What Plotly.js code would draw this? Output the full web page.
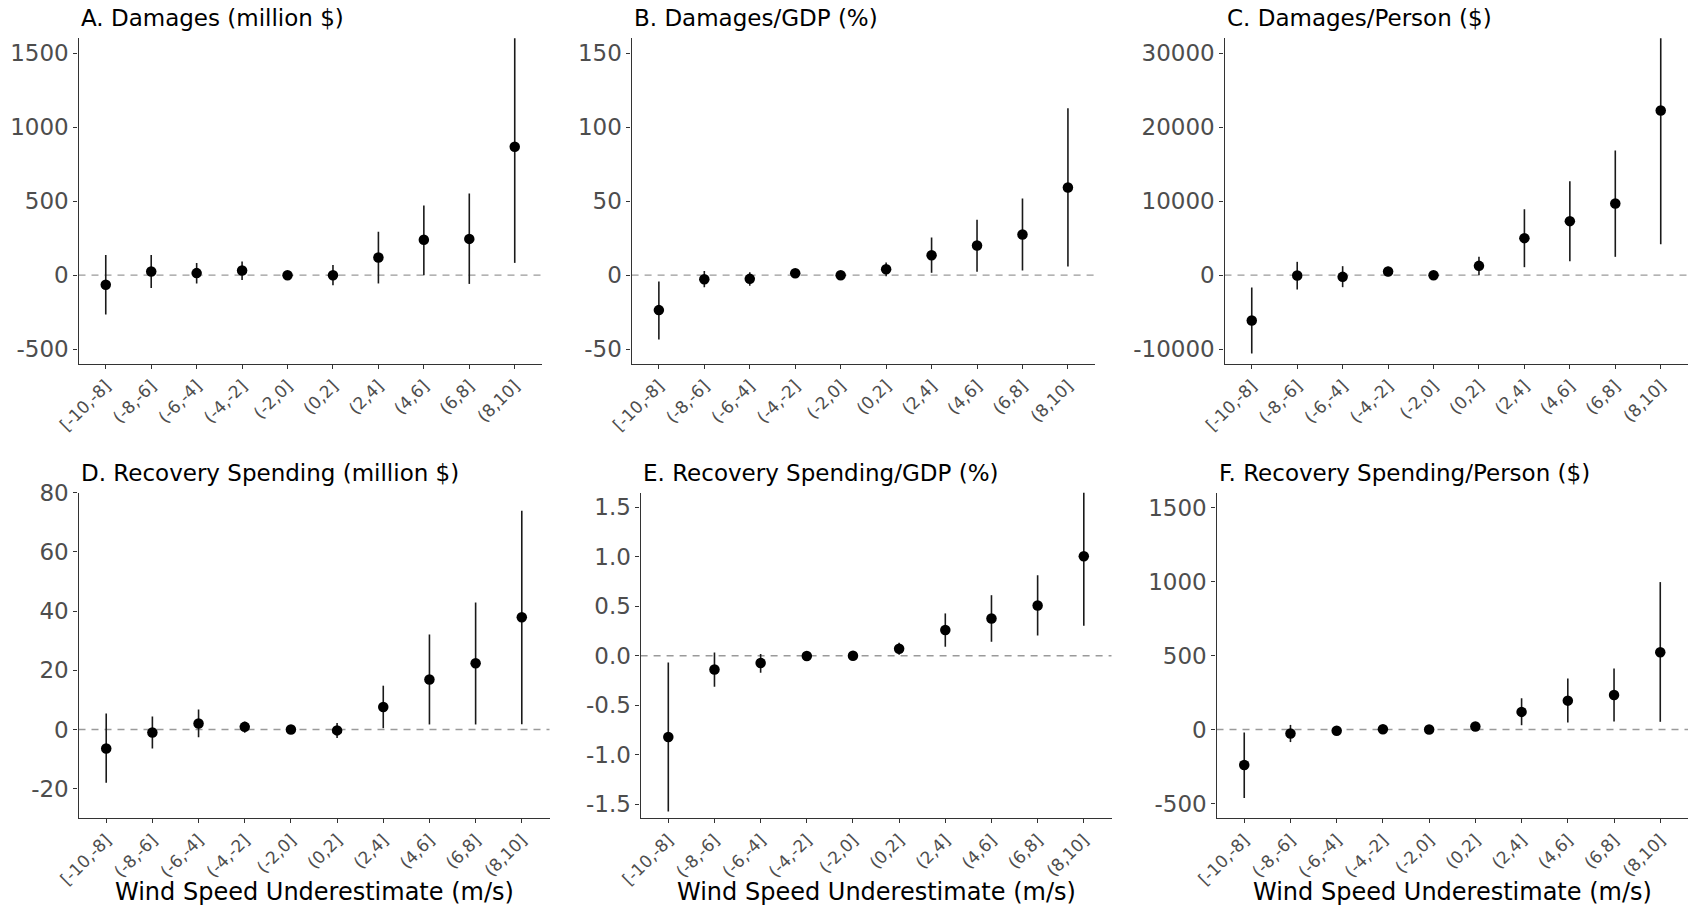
<!DOCTYPE html>
<html><head><meta charset="utf-8">
<script src="https://cdn.plot.ly/plotly-3.0.1.min.js"></script>
<style>html,body{margin:0;padding:0;background:#fff}#chart{width:1688px;height:908px}</style>
</head><body><div id="chart"></div><script>
// ---- data ----
const categories = ["[-10,-8]","(-8,-6]","(-6,-4]","(-4,-2]","(-2,0]","(0,2]","(2,4]","(4,6]","(6,8]","(8,10]"];
const panelTitles = ["A. Damages (million $)","B. Damages/GDP (%)","C. Damages/Person ($)",
  "D. Recovery Spending (million $)","E. Recovery Spending/GDP (%)","F. Recovery Spending/Person ($)"];
const xAxisTitle = "Wind Speed Underestimate (m/s)";

const damagesEst   = [-65, 25, 14, 32, 0, 0, 119, 239, 245, 867];
const damagesLo    = [-266, -86, -56, -32, 0, -68, -56, 0, -59, 83];
const damagesHi    = [137, 137, 83, 92, 0, 68, 293, 471, 552, 1651];

const dmgGdpEst    = [-23.6, -2.7, -2.5, 1.35, 0, 4.05, 13.5, 20.0, 27.5, 59.2];
const dmgGdpLo     = [-43.5, -8.1, -7.2, 0.2, 0, -0.7, 1.6, 2.3, 3.2, 5.9];
const dmgGdpHi     = [-4.3, 2.9, 2.0, 2.5, 0, 8.6, 25.5, 37.4, 51.8, 112.8];

const dmgPersonEst = [-6126, -45, -225, 495, 0, 1261, 5000, 7297, 9685, 22252];
const dmgPersonLo  = [-10586, -1937, -1622, -135, 0, 0, 1081, 1892, 2477, 4189];
const dmgPersonHi  = [-1667, 1802, 1216, 1126, 0, 2477, 8919, 12703, 16847, 40315];

const recEst       = [-6.4, -1.0, 2.0, 0.9, 0, -0.3, 7.6, 16.9, 22.4, 37.9];
const recLo        = [-18.0, -6.4, -2.6, -1.1, 0, -2.9, 0.45, 1.7, 1.7, 1.8];
const recHi        = [5.4, 4.4, 6.75, 2.6, 0, 2.2, 14.8, 32.1, 42.9, 73.9];

const recGdpEst    = [-0.82, -0.138, -0.074, -0.003, 0, 0.07, 0.259, 0.376, 0.507, 1.004];
const recGdpLo     = [-1.572, -0.312, -0.171, -0.01, 0, 0.01, 0.091, 0.141, 0.205, 0.302];
const recGdpHi     = [-0.067, 0.034, 0.017, 0.005, 0, 0.131, 0.427, 0.611, 0.813, 1.706];

const recPersonEst = [-240, -27, -9, 2, 0, 20, 119, 195, 233, 522];
const recPersonLo  = [-462, -85, -20, -3, 0, 10, 29, 47, 54, 52];
const recPersonHi  = [-20, 31, 2, 7, 0, 30, 211, 345, 413, 996];

const yTickValsA = [-500, 0, 500, 1000, 1500];
const yTickTextA = ["-500", "0", "500", "1000", "1500"];
const yTickValsB = [-50, 0, 50, 100, 150];
const yTickTextB = ["-50", "0", "50", "100", "150"];
const yTickValsC = [-10000, 0, 10000, 20000, 30000];
const yTickTextC = ["-10000", "0", "10000", "20000", "30000"];
const yTickValsD = [-20, 0, 20, 40, 60, 80];
const yTickTextD = ["-20", "0", "20", "40", "60", "80"];
const yTickValsE = [-1.5, -1.0, -0.5, 0, 0.5, 1.0, 1.5];
const yTickTextE = ["-1.5", "-1.0", "-0.5", "0.0", "0.5", "1.0", "1.5"];
const yTickValsF = [-500, 0, 500, 1000, 1500];
const yTickTextF = ["-500", "0", "500", "1000", "1500"];

// ---- panel setup ----
const W = 1688, H = 908;
const panels = [
  {est: damagesEst, lo: damagesLo, hi: damagesHi, range: [-600, 1600], tv: yTickValsA, tt: yTickTextA, px: [78.5, 542, 38.3, 364]},
  {est: dmgGdpEst, lo: dmgGdpLo, hi: dmgGdpHi, range: [-60, 160], tv: yTickValsB, tt: yTickTextB, px: [631.6, 1095.2, 38.3, 364]},
  {est: dmgPersonEst, lo: dmgPersonLo, hi: dmgPersonHi, range: [-12000, 32000], tv: yTickValsC, tt: yTickTextC, px: [1224.5, 1688, 38.3, 364]},
  {est: recEst, lo: recLo, hi: recHi, range: [-30, 80], tv: yTickValsD, tt: yTickTextD, px: [78.5, 549.5, 492.7, 818.3]},
  {est: recGdpEst, lo: recGdpLo, hi: recGdpHi, range: [-1.64, 1.645], tv: yTickValsE, tt: yTickTextE, px: [640.6, 1111.5, 492.7, 818.3]},
  {est: recPersonEst, lo: recPersonLo, hi: recPersonHi, range: [-600, 1600], tv: yTickValsF, tt: yTickTextF, px: [1216.5, 1688, 492.7, 818.3]}
];

const FONT = "DejaVu Sans, sans-serif";
const traces = [];
const layout = {
  width: W, height: H, margin: {l: 0, r: 0, t: 0, b: 0},
  paper_bgcolor: "#fff", plot_bgcolor: "#fff", showlegend: false,
  font: {family: FONT, color: "#000"},
  shapes: [], annotations: []
};

panels.forEach((p, i) => {
  const n = i + 1;
  const xa = "xaxis" + (n === 1 ? "" : n), ya = "yaxis" + (n === 1 ? "" : n);
  const xr = "x" + (n === 1 ? "" : n), yr = "y" + (n === 1 ? "" : n);
  const [x0, x1, yt, yb] = p.px;
  const dx = [Math.max(0, x0 / W), Math.min(1, x1 / W)];
  const dy = [1 - yb / H, 1 - yt / H];

  traces.push({
    type: "scatter", mode: "markers", x: categories, y: p.est, xaxis: xr, yaxis: yr,
    marker: {color: "#000", size: 10.5},
    error_y: {type: "data", symmetric: false,
      array: p.hi.map((h, k) => h - p.est[k]),
      arrayminus: p.lo.map((l, k) => p.est[k] - l),
      width: 0, thickness: 1.6, color: "#1a1a1a"},
    hoverinfo: "x+y"
  });

  layout[xa] = {
    domain: dx, anchor: yr, type: "category", range: [-0.6, 9.6],
    showgrid: false, zeroline: false, showline: true, linecolor: "#333", linewidth: 1.3,
    ticks: "outside", ticklen: 4, tickwidth: 1.3, tickcolor: "#333",
    tickangle: -45, tickfont: {family: FONT, size: 17, color: "#4d4d4d"},
    fixedrange: true
  };
  layout[ya] = {
    domain: dy, anchor: xr, range: p.range, tickmode: "array", tickvals: p.tv, ticktext: p.tt,
    showgrid: false, zeroline: false, showline: true, linecolor: "#333", linewidth: 1.3,
    ticks: "outside", ticklen: 4, tickwidth: 1.3, tickcolor: "#333",
    tickfont: {family: FONT, size: 23, color: "#4d4d4d"},
    fixedrange: true
  };

  layout.shapes.push({
    type: "line", layer: "below", xref: xr + " domain", yref: yr,
    x0: 0, x1: 1, y0: 0, y1: 0,
    line: {color: "#9a9a9a", width: 1.4, dash: "7px,6px"}
  });

  layout.annotations.push({
    text: panelTitles[i], xref: "paper", yref: "paper",
    x: x0 / W, y: 1 - ((i < 3 ? 26.5 : 481.5) + 6) / H,
    xanchor: "left", yanchor: "bottom", showarrow: false,
    font: {family: FONT, size: 23, color: "#000"}
  });

  if (i >= 3) {
    layout.annotations.push({
      text: xAxisTitle, xref: "paper", yref: "paper",
      x: (x0 + Math.min(x1, W)) / 2 / W, y: 1 - (902 + 6) / H,
      xanchor: "center", yanchor: "bottom", showarrow: false,
      font: {family: FONT, size: 24, color: "#000"}
    });
  }
});

Plotly.newPlot("chart", traces, layout, {displayModeBar: false, staticPlot: false});
</script></body></html>
